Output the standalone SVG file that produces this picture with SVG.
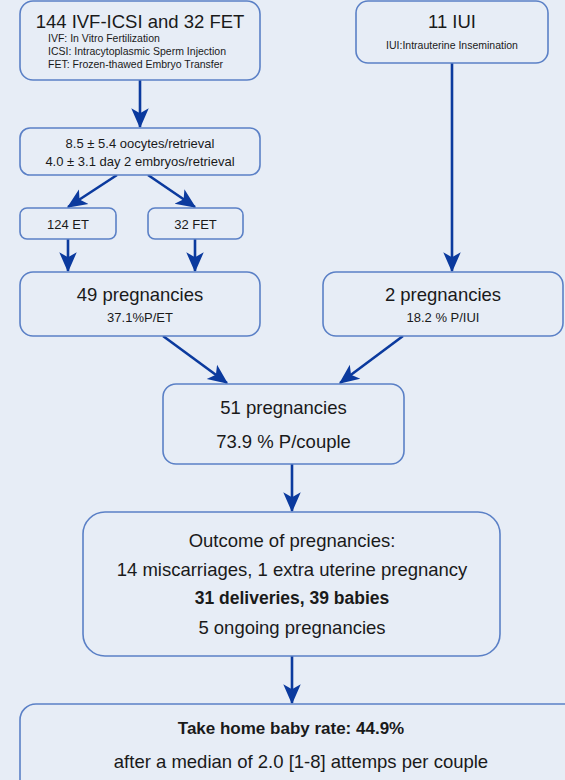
<svg xmlns="http://www.w3.org/2000/svg" width="565" height="780" viewBox="0 0 565 780">
<defs>
<style>
.bg{fill:#e7edf6}
.box{fill:#e7edf6;stroke:#5b80c6;stroke-width:1.6}
.t{font-family:"Liberation Sans",Arial,sans-serif;fill:#1a1a1a;text-anchor:middle}
.s{font-family:"Liberation Sans",Arial,sans-serif;fill:#1a1a1a}
.b{font-weight:bold}
.c{fill:none;stroke:#0b3a9e;stroke-width:2.6}
</style>
<marker id="ah" markerUnits="userSpaceOnUse" markerWidth="20" markerHeight="20" viewBox="0 0 16 14" refX="15" refY="7" orient="auto">
<path d="M0,0 L16,7 L0,14 L4,7 Z" fill="#0b3a9e"/>
</marker>
</defs>
<rect class="bg" x="0" y="0" width="565" height="780"/>
<g id="connectors">
<line class="c" x1="140" y1="80" x2="140" y2="127" marker-end="url(#ah)"/>
<line class="c" x1="452" y1="63" x2="452" y2="271" marker-end="url(#ah)"/>
<line class="c" x1="117" y1="175" x2="68" y2="207" marker-end="url(#ah)"/>
<line class="c" x1="148" y1="175" x2="195" y2="207" marker-end="url(#ah)"/>
<line class="c" x1="68" y1="239" x2="68" y2="271" marker-end="url(#ah)"/>
<line class="c" x1="195" y1="239" x2="195" y2="271" marker-end="url(#ah)"/>
<line class="c" x1="163" y1="336" x2="227" y2="383" marker-end="url(#ah)"/>
<line class="c" x1="403" y1="336" x2="340" y2="383" marker-end="url(#ah)"/>
<line class="c" x1="292" y1="464" x2="292" y2="511" marker-end="url(#ah)"/>
<line class="c" x1="292" y1="656" x2="292" y2="703" marker-end="url(#ah)"/>
</g>
<g id="n_ivf">
<rect class="box" x="20" y="1" width="240" height="79" rx="13"/>
<text class="t" x="140" y="28" font-size="18.5">144 IVF-ICSI and 32 FET</text>
<text class="s" x="48" y="42" font-size="10.5">IVF: In Vitro Fertilization</text>
<text class="s" x="48" y="55" font-size="10.5">ICSI: Intracytoplasmic Sperm Injection</text>
<text class="s" x="48" y="68" font-size="10.5">FET: Frozen-thawed Embryo Transfer</text>
</g>
<g id="n_iui">
<rect class="box" x="356" y="1" width="192" height="62" rx="12"/>
<text class="t" x="452" y="28" font-size="18.5">11 IUI</text>
<text class="t" x="452" y="49" font-size="10.5">IUI:Intrauterine Insemination</text>
</g>
<g id="n_retrieval">
<rect class="box" x="20" y="128" width="240" height="47" rx="10"/>
<text class="t" x="140" y="148" font-size="13">8.5 ± 5.4 oocytes/retrieval</text>
<text class="t" x="140" y="166" font-size="13">4.0 ± 3.1 day 2 embryos/retrieval</text>
</g>
<g id="n_et">
<rect class="box" x="20" y="208" width="96" height="31" rx="7"/>
<text class="t" x="68" y="229" font-size="13">124 ET</text>
</g>
<g id="n_fet">
<rect class="box" x="148" y="208" width="95" height="31" rx="7"/>
<text class="t" x="195.5" y="229" font-size="13">32 FET</text>
</g>
<g id="n_p49">
<rect class="box" x="20" y="272" width="240" height="64" rx="13"/>
<text class="t" x="140" y="301" font-size="18.5">49 pregnancies</text>
<text class="t" x="140" y="322" font-size="13">37.1%P/ET</text>
</g>
<g id="n_p2">
<rect class="box" x="323" y="272" width="240" height="64" rx="13"/>
<text class="t" x="443" y="301" font-size="18.5">2 pregnancies</text>
<text class="t" x="443" y="322" font-size="13">18.2 % P/IUI</text>
</g>
<g id="n_p51">
<rect class="box" x="163" y="384" width="241" height="80" rx="13"/>
<text class="t" x="283.5" y="414" font-size="18.5">51 pregnancies</text>
<text class="t" x="283.5" y="448" font-size="18.5">73.9 % P/couple</text>
</g>
<g id="n_outcome">
<rect class="box" x="83" y="512" width="417" height="144" rx="22"/>
<text class="t" x="292" y="547" font-size="18.5">Outcome of pregnancies:</text>
<text class="t" x="292" y="576" font-size="18.5">14 miscarriages, 1 extra uterine pregnancy</text>
<text class="t b" x="292" y="604" font-size="17.5">31 deliveries, 39 babies</text>
<text class="t" x="292" y="634" font-size="18.5">5 ongoing pregnancies</text>
</g>
<g id="n_final">
<rect class="box" x="20" y="704" width="570" height="100" rx="16"/>
<text class="t b" x="291" y="734" font-size="17">Take home baby rate: 44.9%</text>
<text class="t" x="301" y="768" font-size="18.5">after a median of 2.0 [1-8] attemps per couple</text>
</g>
</svg>
